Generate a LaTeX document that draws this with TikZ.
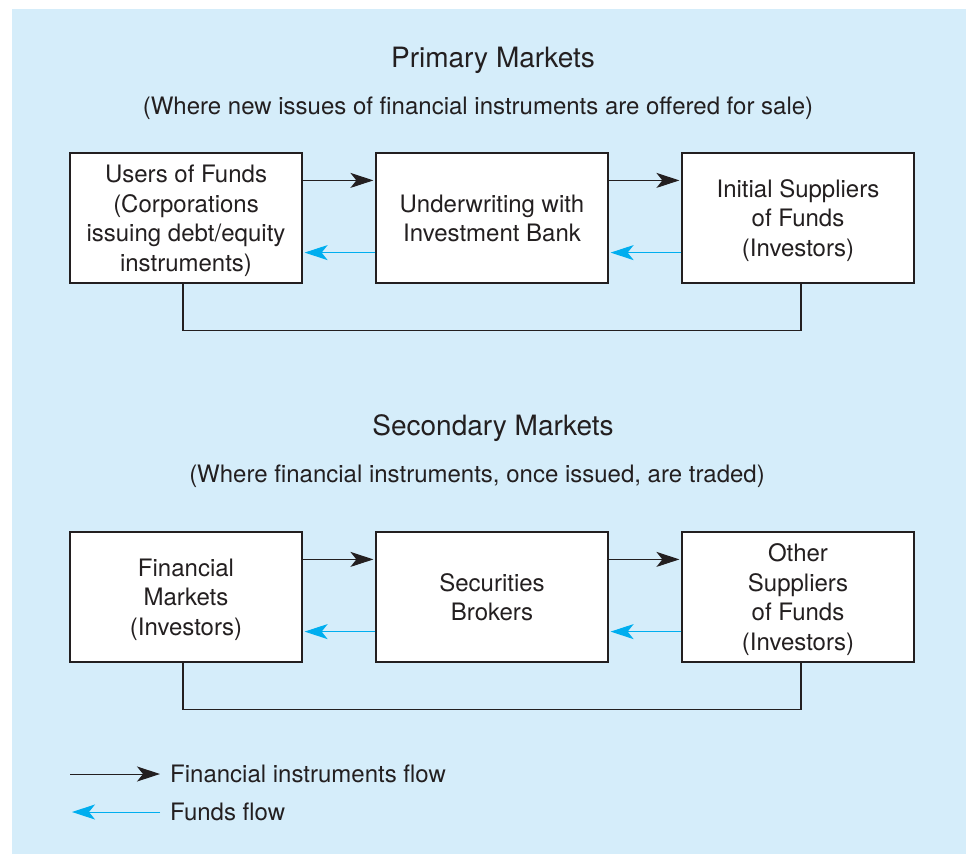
\documentclass[tikz,border=0pt]{standalone}
\usepackage{fontspec}
\setmainfont{TeX Gyre Heros}
\usetikzlibrary{arrows.meta}
\definecolor{bgblue}{HTML}{D5EDFA}
\definecolor{fundblue}{HTML}{00AEEF}
\definecolor{inkgray}{HTML}{231F20}
\tikzset{
  box/.style={draw=inkgray, line width=1.2pt, fill=white, minimum width=232pt, minimum height=130pt, align=center, inner sep=0pt, text depth=0pt, font=\fontsize{24}{29.5}\selectfont, text=inkgray},
  instr/.style={draw=inkgray, line width=1pt, -{Stealth[length=23pt,width=15pt,inset=6pt]}, shorten >=2pt},
  funds/.style={draw=fundblue, line width=1pt, -{Stealth[length=23pt,width=15pt,inset=6pt]}, shorten >=2pt},
  link/.style={draw=inkgray, line width=1.2pt},
  title/.style={font=\fontsize{28}{32}\selectfont, text=inkgray},
  subtitle/.style={font=\fontsize{24}{28}\selectfont, text=inkgray},
  legend/.style={font=\fontsize{24}{28}\selectfont, text=inkgray, anchor=west, inner sep=0pt}
}
\begin{document}
\begin{tikzpicture}[x=1pt,y=-1pt]
\useasboundingbox (0,0) rectangle (966,854);
\fill[bgblue] (12,9) rectangle (966,854);

\node[title] (pt) at (493,60) {Primary Markets};
\node[subtitle] (ps) at (478,108) {(Where new issues of financial instruments are offered for sale)};

\node[box] (u) at (186,218) {Users of Funds\\(Corporations\\issuing debt/equity\\instruments)};
\node[box] (b) at (492,218) {Underwriting with\\Investment Bank};
\node[box] (s) at (798,218) {Initial Suppliers\\of Funds\\(Investors)};

\draw[instr] ([yshift=-28pt]u.north east) -- ([yshift=-28pt]b.north west);
\draw[instr] ([yshift=-28pt]b.north east) -- ([yshift=-28pt]s.north west);
\draw[funds] ([yshift=31pt]b.south west) -- ([yshift=31pt]u.south east);
\draw[funds] ([yshift=31pt]s.south west) -- ([yshift=31pt]b.south east);
\draw[link] ([xshift=-3pt]u.south) -- ++(0,47) -| ([xshift=3pt]s.south);

\node[title] (st) at (493,428) {Secondary Markets};
\node[subtitle] (ss) at (477,476) {(Where financial instruments, once issued, are traded)};

\node[box] (f) at (186,597) {Financial\\Markets\\(Investors)};
\node[box] (k) at (492,597) {Securities\\Brokers};
\node[box] (o) at (798,597) {Other\\Suppliers\\of Funds\\(Investors)};

\draw[instr] ([yshift=-28pt]f.north east) -- ([yshift=-28pt]k.north west);
\draw[instr] ([yshift=-28pt]k.north east) -- ([yshift=-28pt]o.north west);
\draw[funds] ([yshift=31pt]k.south west) -- ([yshift=31pt]f.south east);
\draw[funds] ([yshift=31pt]o.south west) -- ([yshift=31pt]k.south east);
\draw[link] ([xshift=-3pt]f.south) -- ++(0,47) -| ([xshift=3pt]o.south);

\coordinate (l1a) at (70,774);
\coordinate (l1b) at (162,774);
\coordinate (l2a) at (160,812);
\coordinate (l2b) at (70,812);
\draw[instr] (l1a) -- (l1b);
\draw[funds] (l2a) -- (l2b);
\node[legend] (lt1) at (170,774) {Financial instruments flow};
\node[legend] (lt2) at (170,812) {Funds flow};
\end{tikzpicture}
\end{document}
